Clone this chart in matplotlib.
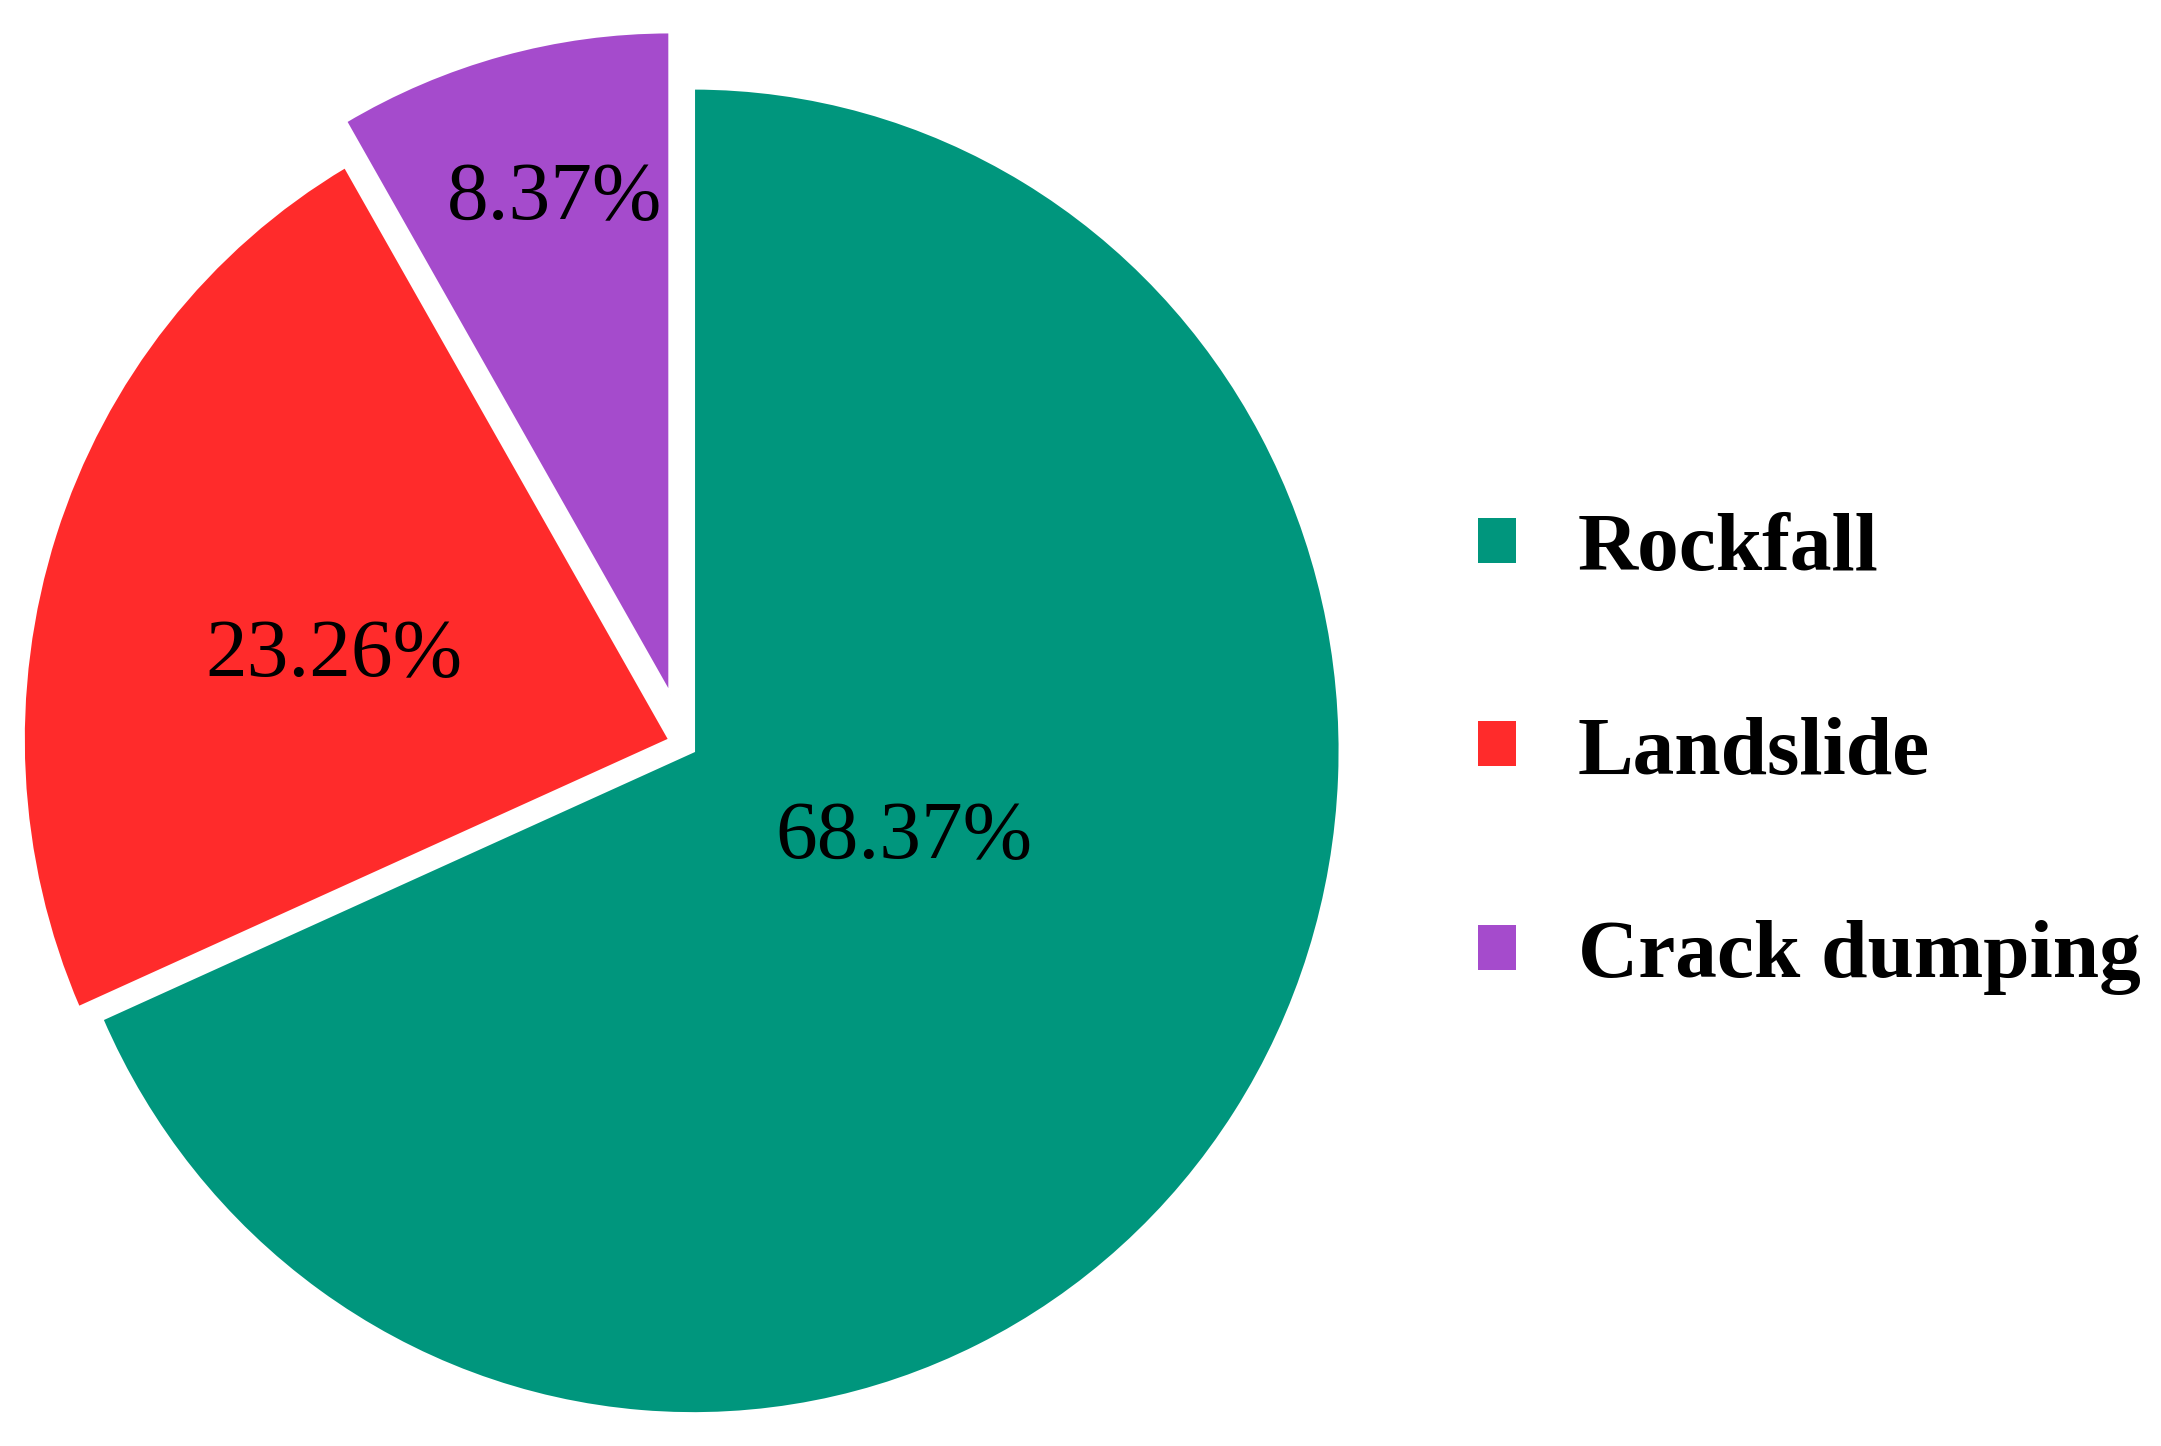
import matplotlib
matplotlib.use("Agg")
import matplotlib.pyplot as plt
from matplotlib.patches import Patch

categories = ["Rockfall", "Landslide", "Crack dumping"]
shares = [68.37, 23.26, 8.37]
colors = ["#00967D", "#FF2B2B", "#A54BCC"]
explode = [0.019, 0.021, 0.077]
label_pos = [(0.341, -0.142), (-0.539, 0.132), (-0.198, 0.822)]

plt.rcParams['font.family'] = ['Liberation Serif', 'DejaVu Serif']

W, H = 2161, 1446
fig = plt.figure(figsize=(W / 100, H / 100), dpi=100)
cx, cy, rx, ry = 683, 744, 647, 663
ax = fig.add_axes([(cx - rx) / W, (H - cy - ry) / H, 2 * rx / W, 2 * ry / H])

wedges, texts = ax.pie(
    shares, colors=colors, explode=explode, startangle=90, counterclock=False,
    wedgeprops=dict(edgecolor="white", linewidth=2.5),
)
ax.set_aspect('auto')
ax.set_xlim(-1, 1)
ax.set_ylim(-1, 1)
for w in wedges:
    w.set_clip_on(False)

for val, (x, y) in zip(shares, label_pos):
    ax.text(x, y, f"{val:.2f}%", ha="center", va="center", fontsize=60, color="black")

handles = [Patch(facecolor=c, edgecolor="none") for c in colors]
fig.legend(handles, categories, loc="center left",
           bbox_to_anchor=(1478 / W, (H - 754) / H), bbox_transform=fig.transFigure,
           frameon=False, borderpad=0, borderaxespad=0,
           handlelength=0.456, handleheight=0.456, handletextpad=0.744,
           labelspacing=1.54, prop=dict(family='Liberation Serif', weight='bold', size=60))

fig.savefig("out.png", dpi=100, facecolor="white")
